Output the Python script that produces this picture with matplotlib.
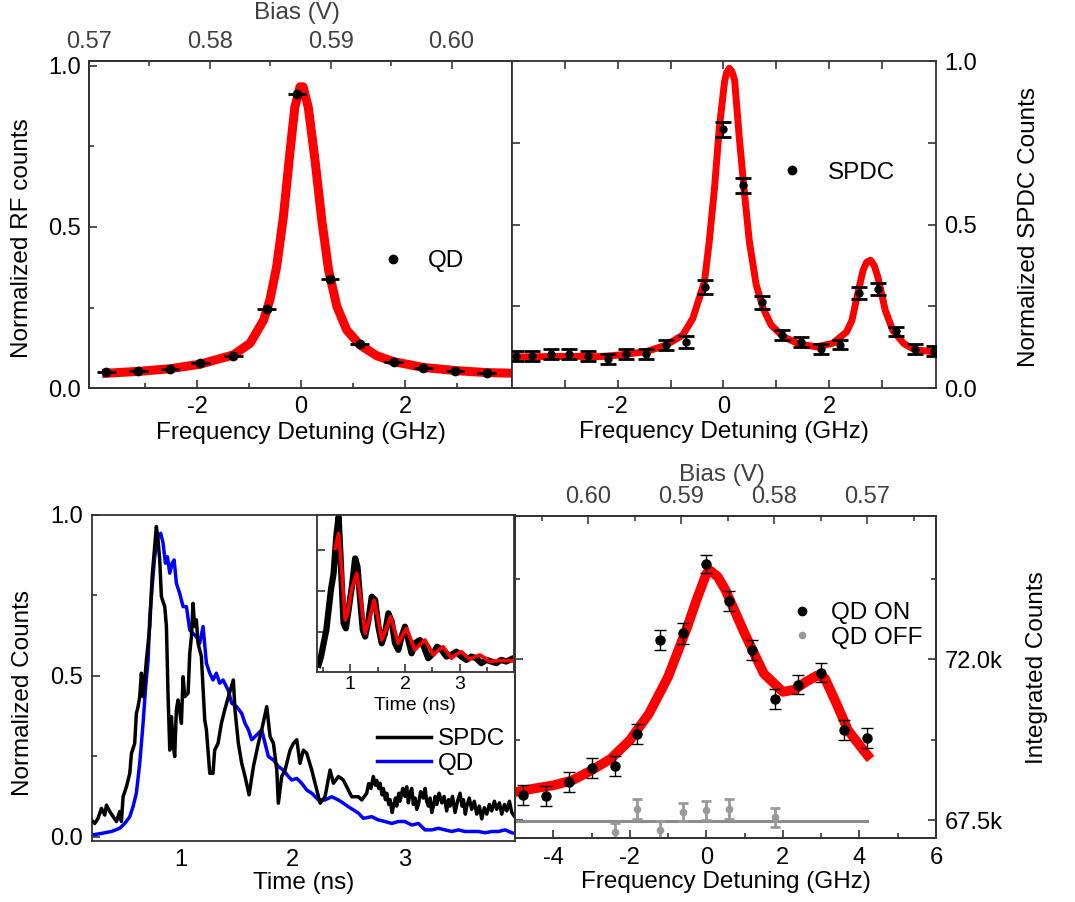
import matplotlib
matplotlib.use("Agg")
import matplotlib.pyplot as plt
from matplotlib.ticker import FixedLocator, FuncFormatter
from matplotlib.lines import Line2D

plt.rcParams['font.family'] = ['Liberation Sans', 'DejaVu Sans']
plt.rcParams['axes.unicode_minus'] = False
plt.rcParams['font.size'] = 17

RED = '#ff0000'
GRAY_TXT = '#404040'
SPINE = '#333333'
LABEL_FS = 17.5
TICK_FS = 17

# ---------------- (a) resonance fluorescence of the QD ----------------
qd_freq = [-3.75, -3.13, -2.52, -1.94, -1.30, -0.66, -0.08, 0.56, 1.13, 1.78, 2.35, 2.96, 3.57]
qd_rf = [0.049, 0.054, 0.059, 0.077, 0.101, 0.245, 0.912, 0.337, 0.136, 0.082, 0.062, 0.054, 0.046]
qd_freq_err = [0.18, 0.18, 0.18, 0.18, 0.18, 0.18, 0.18, 0.18, 0.18, 0.18, 0.18, 0.18, 0.18]
rf_fit_x = [-3.74, -3.10, -2.52, -1.94, -1.30, -0.98, -0.72, -0.60, -0.47, -0.34, -0.21, -0.12,
            -0.02, 0.04, 0.14, 0.27, 0.40, 0.53, 0.69, 0.88, 1.13, 1.46, 1.78, 2.35, 2.99, 3.57, 4.06]
rf_fit_y = [0.046, 0.052, 0.060, 0.074, 0.103, 0.139, 0.211, 0.273, 0.376, 0.531, 0.737, 0.871,
            0.935, 0.935, 0.871, 0.706, 0.520, 0.366, 0.253, 0.180, 0.134, 0.100, 0.082, 0.064, 0.054, 0.048, 0.046]
bias_ticks_a = [0.57, 0.58, 0.59, 0.60]

# ---------------- (b) SPDC counts vs detuning ----------------
spdc_freq = [-3.93, -3.63, -3.27, -2.92, -2.57, -2.19, -1.84, -1.46, -1.08, -0.71, -0.35, 0.00,
             0.36, 0.73, 1.11, 1.47, 1.84, 2.21, 2.56, 2.92, 3.27, 3.62, 3.99]
spdc_norm = [0.097, 0.097, 0.103, 0.103, 0.097, 0.090, 0.103, 0.103, 0.131, 0.141, 0.309, 0.791,
             0.620, 0.263, 0.161, 0.141, 0.120, 0.133, 0.291, 0.304, 0.173, 0.120, 0.113]
spdc_err = [0.015, 0.015, 0.015, 0.015, 0.015, 0.015, 0.015, 0.015, 0.015, 0.018, 0.02, 0.022,
            0.022, 0.02, 0.015, 0.015, 0.015, 0.015, 0.018, 0.018, 0.015, 0.015, 0.015]
spdc_fit_x = [-4.00, -2.85, -2.35, -1.97, -1.47, -1.09, -0.77, -0.58, -0.46, -0.36, -0.27, -0.17,
              -0.08, 0.02, 0.06, 0.11, 0.16, 0.21, 0.30, 0.40, 0.49, 0.62, 0.75, 0.90, 1.13, 1.44,
              1.76, 2.07, 2.33, 2.43, 2.54, 2.64, 2.71, 2.78, 2.85, 2.92, 3.06, 3.20, 3.41, 3.62, 4.02]
spdc_fit_y = [0.095, 0.097, 0.096, 0.101, 0.111, 0.131, 0.162, 0.213, 0.274, 0.325, 0.447, 0.611,
              0.794, 0.937, 0.965, 0.978, 0.968, 0.942, 0.764, 0.590, 0.447, 0.315, 0.244, 0.193, 0.157, 0.134,
              0.126, 0.137, 0.172, 0.207, 0.289, 0.360, 0.385, 0.391, 0.375, 0.340, 0.238, 0.177, 0.136, 0.117, 0.110]

# ---------------- (c) time-resolved traces ----------------
spdc_t = [0.197, 0.227, 0.257, 0.287, 0.317, 0.332, 0.362, 0.392, 0.421, 0.451, 0.466, 0.481, 0.511,
          0.541, 0.556, 0.585, 0.600, 0.615, 0.630, 0.645, 0.660, 0.675, 0.690, 0.720, 0.741, 0.759,
          0.779, 0.794, 0.809, 0.824, 0.854, 0.869, 0.884, 0.899, 0.914, 0.928, 0.943, 0.958, 0.973,
          1.003, 1.018, 1.033, 1.063, 1.078, 1.093, 1.107, 1.122, 1.137, 1.152, 1.182, 1.212, 1.227,
          1.257, 1.286, 1.301, 1.331, 1.361, 1.391, 1.424, 1.468, 1.483, 1.513, 1.543, 1.573, 1.609,
          1.648, 1.692, 1.722, 1.767, 1.797, 1.827, 1.857, 1.871, 1.901, 1.931, 1.976, 2.006, 2.036,
          2.065, 2.095, 2.125, 2.170, 2.215, 2.245, 2.289, 2.334, 2.364, 2.409, 2.453, 2.483, 2.528,
          2.588, 2.618, 2.662, 2.680, 2.700, 2.721, 2.740, 2.751, 2.770, 2.781, 2.800, 2.811, 2.830,
          2.841, 2.860, 2.871, 2.890, 2.901, 2.920, 2.930, 2.950, 2.960, 2.985, 3.005, 3.020, 3.035,
          3.050, 3.065, 3.080, 3.095, 3.110, 3.125, 3.145, 3.169, 3.185, 3.199, 3.215, 3.229, 3.245,
          3.259, 3.275, 3.289, 3.310, 3.334, 3.355, 3.378, 3.395, 3.408, 3.430, 3.453, 3.475, 3.498,
          3.515, 3.528, 3.545, 3.558, 3.580, 3.602, 3.625, 3.647, 3.670, 3.692, 3.715, 3.737, 3.760,
          3.781, 3.805, 3.826, 3.850, 3.871, 3.895, 3.916, 3.940, 3.961, 3.991]
spdc_counts = [0.052, 0.041, 0.057, 0.088, 0.067, 0.098, 0.078, 0.062, 0.047, 0.078, 0.047, 0.124, 0.155,
               0.197, 0.259, 0.290, 0.383, 0.404, 0.435, 0.508, 0.435, 0.487, 0.549, 0.653, 0.808, 0.881,
               0.964, 0.922, 0.860, 0.746, 0.715, 0.653, 0.435, 0.269, 0.373, 0.290, 0.249, 0.394, 0.425,
               0.352, 0.497, 0.435, 0.446, 0.570, 0.622, 0.725, 0.653, 0.674, 0.601, 0.560, 0.363, 0.332,
               0.197, 0.197, 0.269, 0.290, 0.352, 0.394, 0.435, 0.487, 0.394, 0.290, 0.228, 0.187, 0.130,
               0.218, 0.290, 0.332, 0.404, 0.311, 0.290, 0.207, 0.104, 0.187, 0.207, 0.269, 0.290, 0.301,
               0.228, 0.269, 0.259, 0.207, 0.145, 0.104, 0.124, 0.207, 0.166, 0.187, 0.176, 0.155, 0.124,
               0.124, 0.114, 0.135, 0.165, 0.150, 0.187, 0.160, 0.175, 0.150, 0.166, 0.130, 0.150, 0.115,
               0.135, 0.100, 0.115, 0.075, 0.095, 0.120, 0.095, 0.135, 0.110, 0.150, 0.125, 0.155, 0.105,
               0.135, 0.150, 0.100, 0.120, 0.085, 0.100, 0.140, 0.120, 0.150, 0.110, 0.095, 0.120, 0.075,
               0.095, 0.125, 0.100, 0.135, 0.105, 0.125, 0.080, 0.115, 0.095, 0.125, 0.075, 0.110, 0.135,
               0.095, 0.115, 0.070, 0.095, 0.120, 0.085, 0.110, 0.070, 0.095, 0.055, 0.090, 0.070, 0.100,
               0.080, 0.110, 0.085, 0.105, 0.070, 0.100, 0.080, 0.110, 0.075, 0.060]

qd_t = [0.197, 0.287, 0.377, 0.451, 0.496, 0.541, 0.570, 0.600, 0.630, 0.660, 0.681, 0.705, 0.720,
        0.741, 0.764, 0.794, 0.818, 0.839, 0.860, 0.878, 0.899, 0.920, 0.938, 0.958, 0.988, 1.018,
        1.048, 1.078, 1.107, 1.137, 1.167, 1.197, 1.227, 1.257, 1.286, 1.316, 1.346, 1.376, 1.421,
        1.453, 1.498, 1.543, 1.573, 1.603, 1.633, 1.662, 1.692, 1.722, 1.752, 1.782, 1.827, 1.871,
        1.916, 1.961, 1.991, 2.036, 2.080, 2.125, 2.170, 2.230, 2.289, 2.349, 2.409, 2.453, 2.498,
        2.543, 2.588, 2.632, 2.707, 2.766, 2.826, 2.886, 2.945, 3.005, 3.065, 3.125, 3.184, 3.244,
        3.304, 3.363, 3.423, 3.483, 3.542, 3.602, 3.662, 3.722, 3.781, 3.841, 3.901, 3.961, 3.990]
qd_counts = [0.005, 0.010, 0.016, 0.026, 0.041, 0.062, 0.093, 0.135, 0.228, 0.352, 0.456, 0.549, 0.684,
             0.777, 0.870, 0.933, 0.943, 0.912, 0.850, 0.870, 0.819, 0.850, 0.860, 0.788, 0.756, 0.715,
             0.715, 0.642, 0.632, 0.622, 0.601, 0.653, 0.539, 0.508, 0.487, 0.508, 0.477, 0.487, 0.456,
             0.415, 0.404, 0.383, 0.352, 0.332, 0.301, 0.311, 0.321, 0.332, 0.290, 0.249, 0.238, 0.218,
             0.207, 0.187, 0.176, 0.181, 0.166, 0.145, 0.135, 0.114, 0.114, 0.124, 0.114, 0.104, 0.093,
             0.083, 0.073, 0.057, 0.062, 0.052, 0.047, 0.041, 0.047, 0.047, 0.036, 0.041, 0.021, 0.021,
             0.026, 0.021, 0.016, 0.021, 0.016, 0.016, 0.016, 0.012, 0.016, 0.016, 0.021, 0.012, 0.010]

# inset: SPDC trace with damped-oscillation fit
inset_t = [0.424, 0.467, 0.515, 0.564, 0.606, 0.648, 0.697, 0.745, 0.788, 0.818, 0.848, 0.879, 0.921,
           0.970, 1.030, 1.091, 1.133, 1.182, 1.230, 1.273, 1.333, 1.394, 1.455, 1.515, 1.576, 1.636,
           1.697, 1.758, 1.818, 1.879, 1.939, 2.000, 2.061, 2.121, 2.182, 2.273, 2.345, 2.424, 2.515,
           2.588, 2.667, 2.758, 2.848, 2.939, 3.030, 3.121, 3.212, 3.303, 3.394, 3.485, 3.576, 3.667,
           3.758, 3.848, 3.939]
inset_counts = [0.052, 0.102, 0.183, 0.264, 0.386, 0.507, 0.608, 0.831, 0.952, 0.750, 0.527, 0.305, 0.274,
                0.386, 0.527, 0.699, 0.648, 0.446, 0.264, 0.224, 0.325, 0.466, 0.446, 0.284, 0.183, 0.244,
                0.365, 0.315, 0.183, 0.143, 0.224, 0.284, 0.203, 0.122, 0.183, 0.203, 0.162, 0.092, 0.122,
                0.162, 0.143, 0.102, 0.112, 0.132, 0.102, 0.082, 0.102, 0.092, 0.062, 0.082, 0.072, 0.062,
                0.082, 0.072, 0.086]
inset_fit_t = [0.727, 0.788, 0.848, 0.909, 0.952, 1.030, 1.121, 1.194, 1.273, 1.352, 1.436, 1.503, 1.576,
               1.655, 1.739, 1.806, 1.879, 1.952, 2.030, 2.103, 2.182, 2.273, 2.364, 2.442, 2.515, 2.606,
               2.697, 2.770, 2.848, 2.939, 3.030, 3.103, 3.182, 3.273, 3.364, 3.455, 3.545, 3.727, 3.970]
inset_fit = [0.760, 0.851, 0.620, 0.325, 0.360, 0.520, 0.608, 0.450, 0.244, 0.330, 0.446, 0.340, 0.203,
             0.270, 0.345, 0.270, 0.183, 0.230, 0.274, 0.210, 0.143, 0.175, 0.203, 0.160, 0.112, 0.140,
             0.162, 0.130, 0.092, 0.115, 0.132, 0.110, 0.086, 0.100, 0.112, 0.095, 0.072, 0.078, 0.076]

# ---------------- (d) integrated counts vs detuning ----------------
on_freq = [-4.8, -4.2, -3.6, -3.0, -2.4, -1.8, -1.2, -0.6, 0.0, 0.6, 1.2, 1.8, 2.4, 3.0, 3.6, 4.2]
on_counts = [68.20, 68.17, 68.57, 68.96, 69.01, 69.92, 72.53, 72.72, 74.66, 73.63, 72.25, 70.90,
             71.29, 71.63, 70.02, 69.81]
on_err = [0.28, 0.28, 0.28, 0.27, 0.28, 0.28, 0.28, 0.28, 0.26, 0.28, 0.28, 0.28, 0.27, 0.26, 0.28, 0.28]
off_freq = [-2.4, -1.8, -1.2, -0.6, 0.0, 0.6, 1.8]
off_counts = [67.17, 67.82, 67.22, 67.73, 67.78, 67.82, 67.59]
off_err = [0.26, 0.28, 0.26, 0.26, 0.26, 0.28, 0.26]
off_level_x = [-5.0, 4.2]
off_level_y = [67.47, 67.47]
on_fit_x = [-5.0, -4.5, -4.0, -3.5, -3.0, -2.5, -2.0, -1.5, -1.0, -0.5, -0.26, 0.0, 0.08, 0.3, 0.5,
            1.0, 1.5, 2.0, 2.3, 2.6, 2.9, 3.1, 3.4, 3.7, 4.0, 4.21]
on_fit_y = [68.29, 68.39, 68.48, 68.62, 68.90, 69.22, 69.74, 70.48, 71.51, 72.90, 73.65, 74.39, 74.49,
            74.30, 73.93, 72.72, 71.60, 71.09, 71.15, 71.37, 71.55, 71.46, 70.76, 70.02, 69.60, 69.32]
bias_ticks_d = [0.60, 0.59, 0.58, 0.57]


def style(ax, labelsize=TICK_FS, pad=6):
    for s in ax.spines.values():
        s.set_color(SPINE)
        s.set_linewidth(1.3)
    ax.tick_params(which='both', direction='in', color=SPINE, width=1.2,
                   labelsize=labelsize, pad=pad, labelcolor='black')
    ax.tick_params(which='major', length=6)
    ax.tick_params(which='minor', length=3.5)


fig = plt.figure(figsize=(10.75, 9.02), dpi=100)

# ---- panel (a)
ax1 = fig.add_axes([0.0828, 0.5698, 0.3935, 0.3625])
ax1t = ax1.twiny()
ax1.plot(rf_fit_x, rf_fit_y, color=RED, lw=6.5, zorder=2, solid_joinstyle='round')
ax1.errorbar(qd_freq, qd_rf, xerr=qd_freq_err, fmt='o', color='black', ms=6,
             elinewidth=2, capsize=0, zorder=3)
ax1.set_xlim(-4.08, 4.06)
ax1.set_ylim(0, 1.015)
ax1.xaxis.set_major_locator(FixedLocator([-2, 0, 2]))
ax1.xaxis.set_minor_locator(FixedLocator([-3, -1, 1, 3]))
ax1.yaxis.set_major_locator(FixedLocator([0, 0.5, 1.0]))
ax1.yaxis.set_minor_locator(FixedLocator([0.25, 0.75]))
ax1.yaxis.set_major_formatter(FuncFormatter(lambda v, p: f"{v:.1f}"))
style(ax1)
ax1.tick_params(which='both', top=False, right=False)
ax1.set_xlabel('Frequency Detuning (GHz)', va='center', fontsize=LABEL_FS)
ax1.xaxis.set_label_coords(0.5, -0.138)
ax1.set_ylabel('Normalized RF counts', va='center', fontsize=LABEL_FS)
ax1.yaxis.set_label_coords(-0.159, 0.46)
ax1.legend(handles=[Line2D([], [], ls='none', marker='o', color='black', ms=6)], labels=['QD'],
           loc='center left', bbox_to_anchor=(0.690, 0.388), frameon=False, handlelength=1.0,
           handletextpad=0.95, borderpad=0, borderaxespad=0, fontsize=LABEL_FS)

ax1t.set_xlim(0.57, 0.605)
ax1t.xaxis.set_major_locator(FixedLocator(bias_ticks_a))
ax1t.xaxis.set_minor_locator(FixedLocator([0.575, 0.585, 0.595]))
ax1t.xaxis.set_major_formatter(FuncFormatter(lambda v, p: f"{v:.2f}"))
style(ax1t)
ax1t.tick_params(which='both', labelcolor=GRAY_TXT, color=GRAY_TXT)
ax1t.set_xlabel('Bias (V)', color=GRAY_TXT, va='center', fontsize=LABEL_FS)
ax1t.xaxis.set_label_coords(0.492, 1.147)

# ---- panel (b)
ax2 = fig.add_axes([0.4763, 0.5698, 0.3944, 0.3625])
ax2.plot(spdc_fit_x, spdc_fit_y, color=RED, lw=5, zorder=2, solid_joinstyle='round')
ax2.errorbar(spdc_freq, spdc_norm, yerr=spdc_err, fmt='o', color='black', ms=5,
             elinewidth=1.5, capsize=6, capthick=2, zorder=3)
ax2.set_xlim(-4.0, 4.02)
ax2.set_ylim(0, 1.0)
ax2.xaxis.set_major_locator(FixedLocator([-2, 0, 2]))
ax2.xaxis.set_minor_locator(FixedLocator([-3, -1, 1, 3]))
ax2.yaxis.set_major_locator(FixedLocator([0, 0.5, 1.0]))
ax2.yaxis.set_minor_locator(FixedLocator([0.25, 0.75]))
ax2.yaxis.set_major_formatter(FuncFormatter(lambda v, p: f"{v:.1f}"))
style(ax2)
ax2.tick_params(which='both', top=True, left=True, right=True, labelleft=False, labelright=True)
ax2.tick_params(which='minor', length=6)
ax2.set_xlabel('Frequency Detuning (GHz)', va='center', fontsize=LABEL_FS)
ax2.xaxis.set_label_coords(0.5, -0.134)
ax2.yaxis.set_label_position('right')
ax2.set_ylabel('Normalized SPDC Counts', va='center', rotation=90, fontsize=LABEL_FS)
ax2.yaxis.set_label_coords(1.219, 0.492)
ax2.legend(handles=[Line2D([], [], ls='none', marker='o', color='black', ms=6)], labels=['SPDC'],
           loc='center left', bbox_to_anchor=(0.6325, 0.658), frameon=False, handlelength=1.0,
           handletextpad=0.97, borderpad=0, borderaxespad=0, fontsize=LABEL_FS)

# ---- panel (c)
ax3 = fig.add_axes([0.0853, 0.0680, 0.3938, 0.3611])
ax3.plot(spdc_t, spdc_counts, color='black', lw=2.5, label='SPDC', zorder=3)
ax3.plot(qd_t, qd_counts, color='#0000ff', lw=2.5, label='QD', zorder=2)
ax3.set_xlim(0.2, 3.99)
ax3.set_ylim(-0.0125, 1.0)
ax3.xaxis.set_major_locator(FixedLocator([1, 2, 3]))
ax3.yaxis.set_major_locator(FixedLocator([0, 0.5, 1.0]))
ax3.yaxis.set_minor_locator(FixedLocator([0.25, 0.75]))
ax3.yaxis.set_major_formatter(FuncFormatter(lambda v, p: f"{v:.1f}"))
style(ax3)
ax3.tick_params(which='both', top=False, right=False)
ax3.tick_params(axis='x', which='both', length=0)
ax3.set_xlabel('Time (ns)', va='center', fontsize=LABEL_FS)
ax3.xaxis.set_label_coords(0.5, -0.13)
ax3.set_ylabel('Normalized Counts', va='center', fontsize=LABEL_FS)
ax3.yaxis.set_label_coords(-0.1616, 0.453)
ax3.legend(loc='center left', bbox_to_anchor=(0.673, 0.274), frameon=False, handlelength=2.25,
           handletextpad=0.28, borderpad=0, borderaxespad=0, labelspacing=0.1, fontsize=LABEL_FS)

# inset
ax4 = fig.add_axes([0.2952, 0.2553, 0.1834, 0.1737])
ax4.plot(inset_t, inset_counts, color='black', lw=4.5, zorder=2, solid_joinstyle='round')
ax4.plot(inset_fit_t, inset_fit, color=RED, lw=2.6, zorder=3, solid_joinstyle='round')
ax4.set_xlim(0.4, 4.0)
ax4.set_ylim(0.01, 0.963)
ax4.xaxis.set_major_locator(FixedLocator([1, 2, 3]))
ax4.xaxis.set_minor_locator(FixedLocator([0.5, 1.5, 2.5, 3.5]))
ax4.yaxis.set_major_locator(FixedLocator([0.25, 0.5, 0.75]))
ax4.set_yticklabels([])
style(ax4, labelsize=14, pad=3)
ax4.tick_params(which='both', top=False, right=False)
ax4.set_xlabel('Time (ns)', fontsize=14, va='center')
ax4.xaxis.set_label_coords(0.495, -0.215)

# ---- panel (d)
ax5 = fig.add_axes([0.4791, 0.0706, 0.3916, 0.3573])
ax5t = ax5.twiny()
ax5.plot(on_fit_x, on_fit_y, color=RED, lw=7, zorder=2, solid_joinstyle='round')
ax5.plot(off_level_x, off_level_y, color='#8c8c8c', lw=2.2, zorder=2)
ax5.errorbar(off_freq, off_counts, yerr=off_err, fmt='o', color='#999999', ms=4.5,
             elinewidth=2, capsize=3.5, capthick=2, zorder=3)
ax5.errorbar(on_freq, on_counts, yerr=on_err, fmt='o', color='black', ms=6.5,
             elinewidth=1, capsize=4, capthick=1, zorder=4)
ax5.set_xlim(-5, 6)
ax5.set_ylim(67.0, 76.0)
ax5.xaxis.set_major_locator(FixedLocator([-4, -2, 0, 2, 4, 6]))
ax5.xaxis.set_minor_locator(FixedLocator([-3, -1, 1, 3, 5]))
ax5.yaxis.set_major_locator(FixedLocator([67.5, 72.0]))
ax5.yaxis.set_minor_locator(FixedLocator([69.75, 74.25]))
ax5.yaxis.set_major_formatter(FuncFormatter(lambda v, p: f"{v:.1f}k"))
style(ax5)
ax5.tick_params(which='both', top=False, left=True, right=True, labelleft=False, labelright=True)
ax5.set_xlabel('Frequency Detuning (GHz)', va='center', fontsize=LABEL_FS)
ax5.xaxis.set_label_coords(0.5, -0.135)
ax5.yaxis.set_label_position('right')
ax5.set_ylabel('Integrated Counts', va='center', rotation=90, fontsize=LABEL_FS)
ax5.yaxis.set_label_coords(1.24, 0.53)
leg_handles = [Line2D([], [], ls='none', marker='o', color='black', ms=6),
               Line2D([], [], ls='none', marker='o', color='#999999', ms=4.5)]
ax5.legend(handles=leg_handles, labels=['QD ON', 'QD OFF'], loc='center left',
           bbox_to_anchor=(0.652, 0.661), frameon=False, handlelength=1.0, handletextpad=0.69,
           borderpad=0, borderaxespad=0, labelspacing=0.1, fontsize=LABEL_FS)

ax5t.set_xlim(0.6079, 0.5626)
ax5t.xaxis.set_major_locator(FixedLocator(bias_ticks_d))
ax5t.xaxis.set_minor_locator(FixedLocator([0.605, 0.595, 0.585, 0.575, 0.565]))
ax5t.xaxis.set_major_formatter(FuncFormatter(lambda v, p: f"{v:.2f}"))
style(ax5t)
ax5t.tick_params(which='both', labelcolor=GRAY_TXT, color=GRAY_TXT)
ax5t.set_xlabel('Bias (V)', color=GRAY_TXT, va='center', fontsize=LABEL_FS)
ax5t.xaxis.set_label_coords(0.491, 1.127)

fig.savefig('out.png', dpi=100)
